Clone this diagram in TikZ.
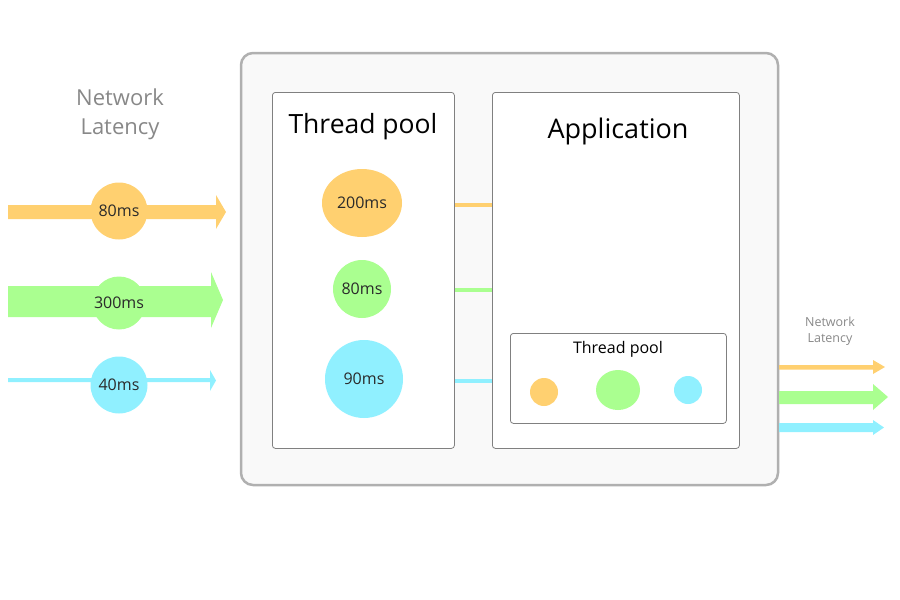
\documentclass[tikz,border=0pt]{standalone}
\usepackage{fontspec}
\setmainfont{Open Sans}
\usetikzlibrary{positioning,shapes.geometric}
\definecolor{corange}{HTML}{FFD070}
\definecolor{cgreen}{HTML}{AAFF90}
\definecolor{ccyan}{HTML}{90F0FF}
\definecolor{boxgray}{HTML}{B0B0B0}
\definecolor{ingray}{HTML}{808080}
\definecolor{bgfill}{HTML}{F9F9F9}
\definecolor{txtgray}{HTML}{888888}
\definecolor{lbl}{HTML}{2A2A2A}
\tikzset{
  panel/.style={draw=ingray, line width=0.8pt, rounded corners=3pt, fill=white},
  blob/.style={draw=none, inner sep=0pt, text=lbl},
  lat/.style={text=lbl, font=\fontsize{16}{16}\selectfont},
  link/.style={line width=4pt},
}
\begin{document}
\begin{tikzpicture}[x=1pt,y=-1pt]
\useasboundingbox (0,0) rectangle (900,600);
% outer box
\draw[draw=boxgray, line width=2.5pt, fill=bgfill, rounded corners=12pt] (241,53) rectangle (778,485);
% left label
\node[text=txtgray, align=center, font=\fontsize{22}{29}\selectfont] (nl) at (120,114) {Network\\Latency};
% left arrows
\fill[corange] (8,205) -- (216,205) -- (216,195) -- (226,212) -- (216,229) -- (216,219) -- (8,219) -- cycle;
\fill[cgreen] (8,286) -- (211,286) -- (211,272) -- (223,300) -- (211,328) -- (211,317) -- (8,317) -- cycle;
\fill[ccyan] (8,378) -- (210,378) -- (210,370) -- (216,380.5) -- (210,391) -- (210,382) -- (8,382) -- cycle;
\node[blob, circle, fill=corange, minimum size=57pt, lat] (a1) at (119,211) {80ms};
\node[blob, circle, fill=cgreen, minimum size=53pt, lat] (a2) at (119,303) {300ms};
\node[blob, circle, fill=ccyan, minimum size=57pt, lat] (a3) at (119,385) {40ms};
% thread pool box
\node[panel, minimum width=182pt, minimum height=356pt, anchor=north west] (tp) at (272,92) {};
\node[font=\fontsize{26.5}{26.5}\selectfont] (tpt) at (363,127) {Thread pool};
\node[blob, ellipse, fill=corange, minimum width=80pt, minimum height=68pt, lat] (t1) at (362,203) {200ms};
\node[blob, circle, fill=cgreen, minimum size=58pt, lat] (t2) at (362,289) {80ms};
\node[blob, circle, fill=ccyan, minimum size=78pt, lat] (t3) at (364,379) {90ms};
% application box
\node[panel, minimum width=247pt, minimum height=356pt, anchor=north west] (app) at (492,92) {};
\node[font=\fontsize{27}{27}\selectfont] (appt) at (618,131) {Application};
% inner pool
\node[panel, minimum width=216pt, minimum height=90pt, anchor=north west] (ip) at (510,333) {};
\node[font=\fontsize{16}{16}\selectfont] (ipt) at (618,349) {Thread pool};
\node[blob, circle, fill=corange, minimum size=28pt] (i1) at (544,392) {};
\node[blob, ellipse, fill=cgreen, minimum width=44pt, minimum height=40pt] (i2) at (618,390) {};
\node[blob, circle, fill=ccyan, minimum size=28pt] (i3) at (688,390) {};
% links
\draw[link, corange] (tp.east |- 0,205) -- (app.west |- 0,205);
\draw[link, cgreen] (tp.east |- 0,290) -- (app.west |- 0,290);
\draw[link, ccyan] (tp.east |- 0,381) -- (app.west |- 0,381);
% right label and arrows
\node[text=txtgray, align=center, font=\fontsize{12.5}{16}\selectfont] (nr) at (830,331) {Network\\Latency};
\fill[corange] (779,365) -- (873,365) -- (873,360) -- (885,367) -- (873,374) -- (873,369.5) -- (779,369.5) -- cycle;
\fill[cgreen] (779,391) -- (873,391) -- (873,384) -- (888,397) -- (873,410) -- (873,404) -- (779,404) -- cycle;
\fill[ccyan] (779,423) -- (873,423) -- (873,420) -- (884,427.5) -- (873,435) -- (873,432) -- (779,432) -- cycle;
\end{tikzpicture}
\end{document}
